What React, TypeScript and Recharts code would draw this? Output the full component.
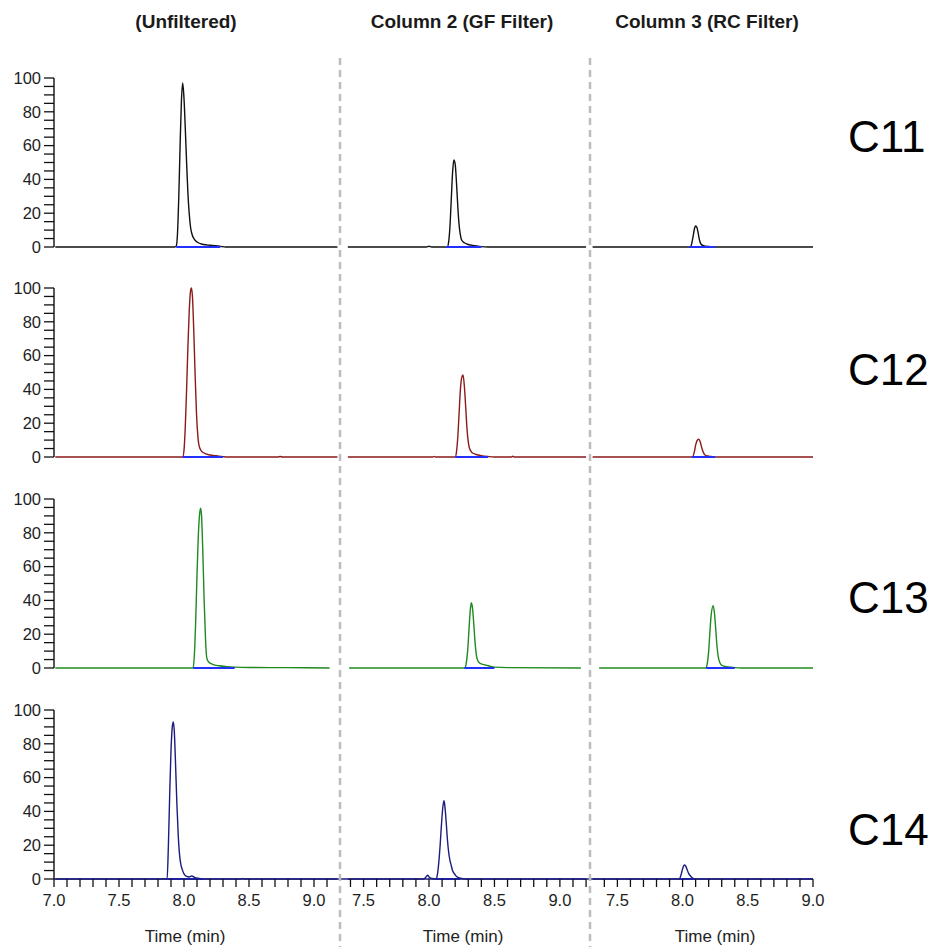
import React from 'react';
import { LineChart, Line, XAxis, YAxis } from 'recharts';

type Pt = [number, number];

const FONT = '"Liberation Sans", Arial, Helvetica, sans-serif';

const compounds = ['C11', 'C12', 'C13', 'C14'];
const columnTitles = ['(Unfiltered)', 'Column 2 (GF Filter)', 'Column 3 (RC Filter)'];
const axisTitle = 'Time (min)';
const traceColors = ['#111111', '#8b1a1a', '#1f8a1f', '#1c1c7e'];
const baselineColor = '#2130ff';

const yTicks = [0, 5, 10, 15, 20, 25, 30, 35, 40, 45, 50, 55, 60, 65, 70, 75, 80, 85, 90, 95, 100];
const xTicksUnf = [7.0, 7.1, 7.2, 7.3, 7.4, 7.5, 7.6, 7.7, 7.8, 7.9, 8.0, 8.1, 8.2, 8.3, 8.4, 8.5, 8.6, 8.7, 8.8, 8.9, 9.0, 9.1];
const xTicksGF = [7.4, 7.5, 7.6, 7.7, 7.8, 7.9, 8.0, 8.1, 8.2, 8.3, 8.4, 8.5, 8.6, 8.7, 8.8, 8.9, 9.0, 9.1, 9.2];
const xTicksRC = [7.4, 7.5, 7.6, 7.7, 7.8, 7.9, 8.0, 8.1, 8.2, 8.3, 8.4, 8.5, 8.6, 8.7, 8.8, 8.9, 9.0];
const xDomainUnf: [number, number] = [7.0, 9.2];
const xDomainGF: [number, number] = [7.32, 9.23];
const xDomainRC: [number, number] = [7.29, 9.0];

// C11
const c11Unf: Pt[] = [[7.01, 0], [7.93, 0], [7.94, 0.5], [7.95, 8], [7.96, 30], [7.97, 60], [7.98, 86], [7.99, 97], [8.0, 88], [8.01, 70], [8.02, 50], [8.03, 32], [8.04, 20], [8.05, 12], [8.06, 8], [8.08, 4.5], [8.1, 3], [8.15, 1.5], [8.2, 1], [8.28, 0.4], [8.32, 0], [9.18, 0]];
const c11GF: Pt[] = [[7.38, 0], [7.98, 0], [8.0, 0.4], [8.02, 0], [8.14, 0], [8.15, 3], [8.16, 12], [8.17, 28], [8.18, 44], [8.19, 51.5], [8.2, 49], [8.21, 38], [8.22, 24], [8.23, 13], [8.24, 7], [8.25, 4], [8.27, 2.5], [8.3, 1.5], [8.35, 0.8], [8.4, 0.2], [8.45, 0], [9.2, 0]];
const c11RC: Pt[] = [[7.31, 0], [8.06, 0], [8.07, 2], [8.08, 6], [8.09, 10.5], [8.1, 12.4], [8.11, 11.5], [8.12, 8], [8.13, 4], [8.14, 1.8], [8.16, 0.8], [8.2, 0.3], [8.25, 0], [9.0, 0]];
const c11Base: [number, number][] = [[7.94, 8.28], [8.13, 8.4], [8.05, 8.25]];

// C12
const c12Unf: Pt[] = [[7.01, 0], [7.99, 0], [8.0, 4], [8.01, 18], [8.02, 40], [8.03, 65], [8.04, 86], [8.05, 98], [8.057, 100], [8.065, 95], [8.075, 75], [8.085, 50], [8.095, 28], [8.105, 14], [8.115, 7], [8.13, 4], [8.15, 2.5], [8.2, 1.2], [8.25, 0.7], [8.3, 0.2], [8.33, 0], [8.72, 0], [8.74, 0.3], [8.76, 0], [9.18, 0]];
const c12GF: Pt[] = [[7.38, 0], [8.03, 0], [8.04, 0.3], [8.05, 0], [8.2, 0], [8.21, 3], [8.22, 12], [8.23, 26], [8.24, 40], [8.25, 47], [8.26, 48.5], [8.27, 42], [8.28, 30], [8.29, 17], [8.3, 9], [8.31, 5], [8.33, 2.5], [8.36, 1.5], [8.4, 0.8], [8.45, 0.3], [8.5, 0], [8.63, 0], [8.64, 0.4], [8.65, 0], [9.2, 0]];
const c12RC: Pt[] = [[7.31, 0], [8.075, 0], [8.09, 3], [8.1, 7], [8.11, 9.5], [8.124, 10.5], [8.135, 9], [8.145, 6], [8.155, 3.5], [8.165, 1.8], [8.18, 0.8], [8.22, 0.3], [8.26, 0], [9.0, 0]];
const c12Base: [number, number][] = [[7.99, 8.3], [8.2, 8.45], [8.07, 8.25]];

// C13
const c13Unf: Pt[] = [[7.01, 0], [8.07, 0], [8.08, 8], [8.09, 28], [8.1, 55], [8.11, 78], [8.12, 91], [8.128, 94.5], [8.135, 90], [8.145, 68], [8.155, 40], [8.165, 18], [8.175, 6], [8.19, 3.5], [8.22, 2.2], [8.27, 1.3], [8.33, 0.8], [8.39, 0.5], [8.5, 0.3], [8.8, 0.2], [9.12, 0]];
const c13GF: Pt[] = [[7.39, 0], [8.275, 0], [8.285, 3], [8.295, 10], [8.305, 22], [8.315, 34], [8.324, 38.6], [8.333, 35], [8.343, 25], [8.353, 14], [8.363, 7], [8.375, 4], [8.39, 2.8], [8.42, 2], [8.46, 1.2], [8.5, 0.5], [8.6, 0.2], [9.16, 0]];
const c13RC: Pt[] = [[7.36, 0], [8.18, 0], [8.19, 3], [8.2, 10], [8.21, 22], [8.22, 32], [8.235, 36.9], [8.245, 32], [8.255, 22], [8.265, 12], [8.275, 6], [8.29, 2.5], [8.31, 1.2], [8.35, 0.6], [8.4, 0.2], [8.45, 0], [9.0, 0]];
const c13Base: [number, number][] = [[8.07, 8.39], [8.27, 8.5], [8.18, 8.4]];

// C14
const c14Unf: Pt[] = [[7.01, 0], [7.87, 0], [7.88, 20], [7.89, 50], [7.9, 76], [7.91, 90], [7.917, 93], [7.925, 88], [7.935, 68], [7.945, 45], [7.955, 27], [7.965, 15], [7.975, 9], [7.985, 6], [8.0, 3], [8.02, 1.5], [8.04, 1.2], [8.06, 1.8], [8.08, 1], [8.12, 0.4], [8.15, 0], [8.44, 0], [8.45, 0.3], [8.46, 0], [9.18, 0]];
const c14GF: Pt[] = [[7.38, 0], [7.96, 0], [7.98, 1.5], [7.99, 2.2], [8.0, 1.2], [8.02, 0.3], [8.055, 0], [8.065, 3], [8.075, 10], [8.085, 20], [8.095, 32], [8.105, 42], [8.114, 46.3], [8.12, 44], [8.13, 35], [8.14, 24], [8.15, 16], [8.16, 11], [8.17, 8], [8.18, 5], [8.195, 3], [8.21, 1.5], [8.24, 0.5], [8.28, 0], [9.2, 0]];
const c14RC: Pt[] = [[7.31, 0], [7.975, 0], [7.99, 3], [8.0, 6], [8.01, 8], [8.017, 8.3], [8.025, 7.5], [8.035, 5.5], [8.045, 3.5], [8.06, 1.8], [8.08, 0.3], [8.1, 0], [9.0, 0]];
const c14Base: [number, number][] = [[7.87, 8.15], [8.05, 8.24], [7.97, 8.09]];

const traces: Pt[][][] = [
  [c11Unf, c11GF, c11RC],
  [c12Unf, c12GF, c12RC],
  [c13Unf, c13GF, c13RC],
  [c14Unf, c14GF, c14RC],
];
const baselines = [c11Base, c12Base, c13Base, c14Base];
const xTicks = [xTicksUnf, xTicksGF, xTicksRC];
const xDomains = [xDomainUnf, xDomainGF, xDomainRC];

// layout
const zeroY = [247, 457, 668, 879];
const plotH = 169;
const topM = 12;
const botM = 12;
const colPlotLeft = [54, 340, 590];
const colPlotW = [286, 250, 223];
const yAxisW = 54;
const titleX = [186, 462, 707];
const timeX = [185, 463, 715];
const labelBaseY = [152, 385, 613, 845];
const separatorsX = [340, 590];

const fmtX = (v: number) => {
  const d = v * 2;
  return Math.abs(d - Math.round(d)) < 1e-6 ? v.toFixed(1) : '';
};
const fmtY = (v: number) => (v % 20 === 0 ? String(v) : '');

function Panel({ row, col }: { row: number; col: number }) {
  const isLeft = col === 0;
  const isBottom = row === 3;
  const rightM = col === 2 ? 20 : 0;
  const width = (isLeft ? yAxisW : 0) + colPlotW[col] + rightM;
  const height = topM + plotH + botM + (isBottom ? 30 : 0);
  const left = colPlotLeft[col] - (isLeft ? yAxisW : 0);
  const data = traces[row][col].map(([t, y]) => ({ t, y }));
  const [b0, b1] = baselines[row][col];
  const base = [{ t: b0, y: 0 }, { t: b1, y: 0 }];
  return (
    <div style={{ position: 'absolute', left, top: zeroY[row] - plotH - topM, width, height }}>
      <LineChart width={width} height={height} margin={{ top: topM, right: rightM, left: 0, bottom: botM }}>
        <XAxis
          type="number"
          dataKey="t"
          domain={xDomains[col]}
          ticks={xTicks[col]}
          interval={0}
          hide={!isBottom}
          height={30}
          tickSize={8}
          tickMargin={7}
          tickFormatter={fmtX}
          tick={{ fontSize: 16.5, fill: '#1e1e1e', fontFamily: FONT }}
          axisLine={{ stroke: traceColors[3], strokeWidth: 1.4 }}
          tickLine={{ stroke: '#111', strokeWidth: 1.3 }}
        />
        <YAxis
          type="number"
          domain={[0, 100]}
          ticks={yTicks}
          interval={0}
          hide={!isLeft}
          width={yAxisW}
          tickSize={10}
          tickMargin={3}
          tickFormatter={fmtY}
          tick={{ fontSize: 16.5, fill: '#1e1e1e', fontFamily: FONT }}
          axisLine={{ stroke: '#111', strokeWidth: 1.4 }}
          tickLine={{ stroke: '#111', strokeWidth: 1.3 }}
        />
        <Line
          data={data}
          dataKey="y"
          type="monotone"
          stroke={traceColors[row]}
          strokeWidth={1.4}
          dot={false}
          activeDot={false}
          isAnimationActive={false}
        />
        <Line
          data={base}
          dataKey="y"
          type="linear"
          stroke={baselineColor}
          strokeWidth={2}
          dot={false}
          activeDot={false}
          isAnimationActive={false}
        />
      </LineChart>
    </div>
  );
}

export default function App() {
  const panels: React.ReactNode[] = [];
  for (let r = 0; r < 4; r++) for (let c = 0; c < 3; c++) panels.push(<Panel key={`${r}-${c}`} row={r} col={c} />);
  return (
    <div style={{ position: 'absolute', left: 0, top: 0, width: 940, height: 947, background: '#fff', overflow: 'hidden' }}>
      {panels}
      <svg width={940} height={947} style={{ position: 'absolute', left: 0, top: 0, pointerEvents: 'none' }}>
        {separatorsX.map((x) => (
          <line key={x} x1={x} x2={x} y1={58} y2={947} stroke="#bdbdbd" strokeWidth={2.5} strokeDasharray="7 5" />
        ))}
        {columnTitles.map((t, i) => (
          <text key={t} x={titleX[i]} y={28} textAnchor="middle" fontFamily={FONT} fontWeight="bold" fontSize={19} fill="#1a1a1a">
            {t}
          </text>
        ))}
        {compounds.map((c, i) => (
          <text key={c} x={848} y={labelBaseY[i]} fontFamily={FONT} fontSize={44} fill="#000">
            {c}
          </text>
        ))}
        {timeX.map((x, i) => (
          <text key={i} x={x} y={942} textAnchor="middle" fontFamily={FONT} fontSize={17} fill="#222">
            {axisTitle}
          </text>
        ))}
      </svg>
    </div>
  );
}
